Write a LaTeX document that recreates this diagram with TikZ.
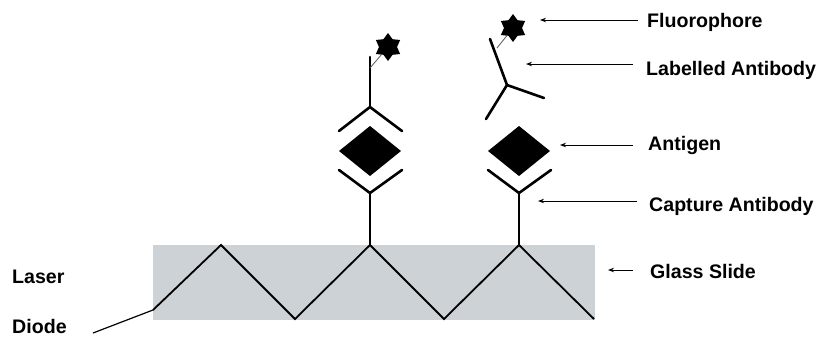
\documentclass[tikz,border=0pt]{standalone}
\usepackage{fontspec}
\setmainfont{Liberation Sans}
\usetikzlibrary{arrows.meta,shapes.geometric}
\definecolor{slidegray}{RGB}{205,210,214}
\begin{document}
\begin{tikzpicture}[x=1pt,y=-1pt,
  bond/.style={line width=2.6pt,line cap=round,line join=miter},
  tether/.style={line width=0.8pt,gray!70!black},
  pointer/.style={line width=1pt,-{Stealth[length=6pt,width=4.5pt]}},
  lbl/.style={anchor=west,inner sep=0pt,font=\bfseries\fontsize{19.6}{21}\selectfont},
  fluor/.style={star,star points=6,star point ratio=1.55,fill=black,
    minimum size=28pt,inner sep=0pt}]
\useasboundingbox (0,0) rectangle (819,338);

% glass slide
\fill[slidegray] (153,245) rectangle (595,320);

% light path through the slide
\coordinate (L0) at (153,310);
\coordinate (P1) at (221,245);
\coordinate (V1) at (295,319);
\coordinate (P2) at (370,245);
\coordinate (V2) at (444,319);
\coordinate (P3) at (519,245);
\coordinate (E)  at (594,319);
\coordinate (src) at (93,333);
\draw[line width=1.2pt] (src) -- (L0);
\draw[line width=1.8pt,line join=miter] (L0) -- (P1) -- (V1) -- (P2) -- (V2) -- (P3) -- (E);

% left: capture antibody, antigen and labelled antibody
\draw[bond] (P2) -- (370,193);
\draw[bond] (339,170) -- (370,193) -- (402,170);
\fill (339,151) -- (370,126) -- (401,151) -- (370,176) -- cycle;
\draw[bond] (339,131) -- (370,107) -- (402,131);
\draw[bond] (370,107) -- (370,57);
\node[fluor] (s1) at (388,47) {};
\draw[tether] (370,68) -- (s1);

% right: capture antibody with antigen
\draw[bond] (P3) -- (519,193);
\draw[bond] (488,170) -- (519,193) -- (551,170);
\fill (488,151) -- (519,126) -- (550,151) -- (519,176) -- cycle;

% free labelled antibody
\draw[bond] (490,39) -- (507,85) -- (544,98);
\draw[bond] (507,85) -- (486,119);
\node[fluor] (s2) at (513,28) {};
\draw[tether] (497,48) -- (s2);

% labels
\node[lbl] (fluo) at (647,22) {Fluorophore};
\node[lbl] (lab)  at (646,70) {Labelled Antibody};
\node[lbl] (ag)   at (648,145) {Antigen};
\node[lbl] (cap)  at (649,206) {Capture Antibody};
\node[lbl] (gs)   at (650,271) {Glass Slide};
\node[lbl] (laser) at (12,277) {Laser};
\node[lbl] (diode) at (12,326) {Diode};

\coordinate (tF) at (540,20);
\coordinate (tL) at (526,64);
\coordinate (tA) at (560,145);
\coordinate (tC) at (538,201);
\coordinate (tG) at (608,270);
\draw[pointer] (tF -| fluo.west) ++(-9,0) -- (tF);
\draw[pointer] (tL -| lab.west) ++(-13,0) -- (tL);
\draw[pointer] (tA -| ag.west) ++(-15,0) -- (tA);
\draw[pointer] (tC -| cap.west) ++(-12,0) -- (tC);
\draw[pointer] (tG -| gs.west) ++(-17,0) -- (tG);
\end{tikzpicture}
\end{document}
